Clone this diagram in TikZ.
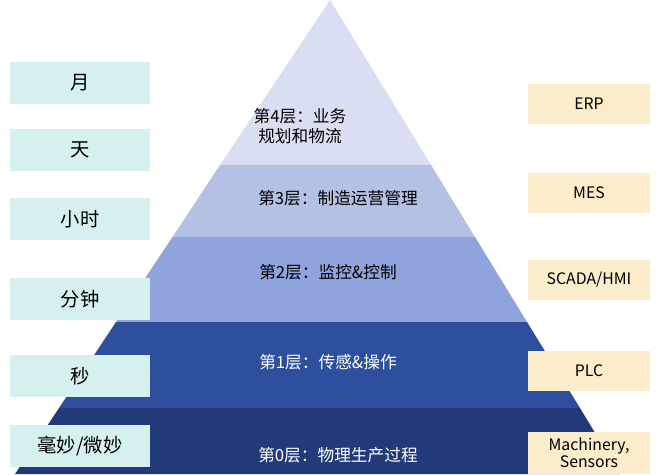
\documentclass[tikz,border=0pt]{standalone}
\usepackage{fontspec}
\setmainfont{Noto Sans CJK SC}
\usepackage{tikz}
\definecolor{layerfour}{HTML}{D9DEF2}
\definecolor{layerthree}{HTML}{B4C0E4}
\definecolor{layertwo}{HTML}{8FA3DC}
\definecolor{layerone}{HTML}{2E4F9E}
\definecolor{layerzero}{HTML}{223A7A}
\definecolor{timefill}{HTML}{D5F0EE}
\definecolor{sysfill}{HTML}{FBECCB}

\begin{document}
\begin{tikzpicture}[
    x=0.02cm, y=-0.02cm,
    timebox/.style={fill=timefill, minimum width=2.8cm, minimum height=0.84cm, font=\fontsize{11}{12}\selectfont},
    sysbox/.style={fill=sysfill, minimum width=2.46cm, minimum height=0.8cm, align=center, font=\fontsize{9}{10}\selectfont},
    layertext/.style={font=\fontsize{9.5}{11}\selectfont, align=center}
]
    \useasboundingbox (0,0) rectangle (660,474);

    % LAYERS
    \fill[layerfour] (330,0) -- (431,165) -- (220,165) -- cycle;
    \fill[layerthree] (220,165) -- (431,165) -- (475,237) -- (172.5,237) -- cycle;
    \fill[layertwo] (172.5,237) -- (475,237) -- (527,322) -- (116,322) -- cycle;
    \fill[layerone] (116,322) -- (527,322) -- (580,408) -- (59,408) -- cycle;
    \fill[layerzero] (59,408) -- (580,408) -- (620,474) -- (15,474) -- cycle;

    % LAYER TEXT
    \node[layertext] (l4) at (300,126) {第4层：业务\\规划和物流};
    \node[layertext] (l3) at (338,198) {第3层：制造运营管理};
    \node[layertext] (l2) at (328,272) {第2层：监控\&控制};
    \node[layertext, text=white] (l1) at (328,362) {第1层：传感\&操作};
    \node[layertext, text=white] (l0) at (338,455) {第0层：物理生产过程};

    % TIME SCALES
    \node[timebox] (month) at (80,83) {月};
    \node[timebox] (day) at (80,150) {天};
    \node[timebox] (hour) at (80,219) {小时};
    \node[timebox] (minute) at (80,299) {分钟};
    \node[timebox] (second) at (80,376) {秒};
    \node[timebox] (micro) at (80,446) {毫妙/微妙};

    % SYSTEMS
    \node[sysbox] (erp) at (589,104) {ERP};
    \node[sysbox] (mes) at (589,193) {MES};
    \node[sysbox] (scada) at (589,280) {SCADA/HMI};
    \node[sysbox] (plc) at (589,371) {PLC};
    \node[sysbox] (mach) at (589,453) {Machinery,\\Sensors};
\end{tikzpicture}
\end{document}
